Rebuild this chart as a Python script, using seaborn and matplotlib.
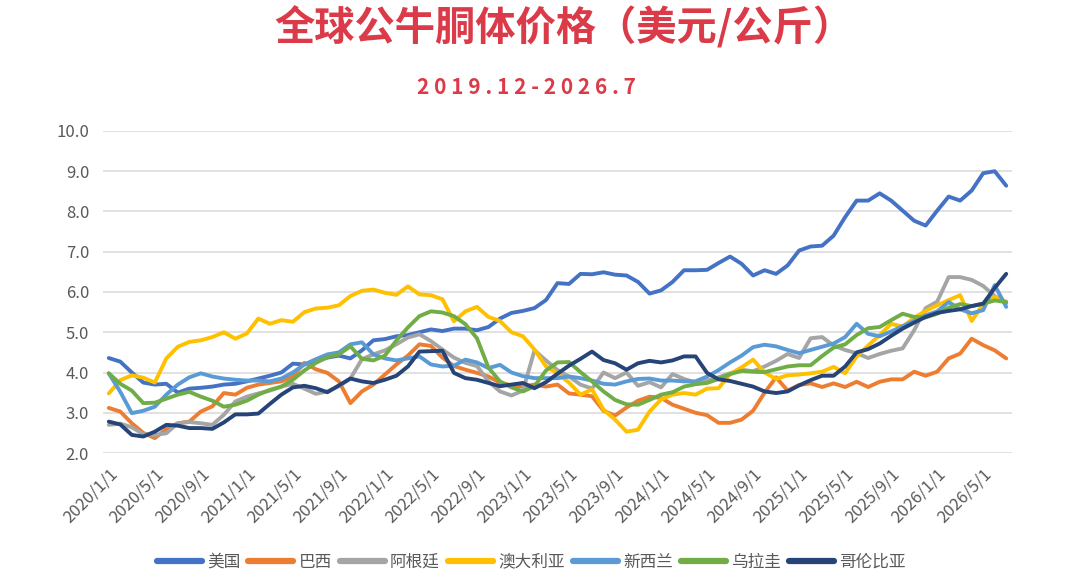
import matplotlib
matplotlib.use("Agg")
import matplotlib.pyplot as plt
import numpy as np
import pandas as pd
import seaborn as sns

# monthly, 2020/1 .. 2026/7
months = pd.date_range("2020-01-01", periods=79, freq="MS")

us = [4.36, 4.27, 4.0, 3.75, 3.7, 3.72, 3.5, 3.6, 3.62, 3.65,
      3.7, 3.72, 3.78, 3.85, 3.92, 4.0, 4.22, 4.2, 4.28, 4.37,
      4.42, 4.35, 4.55, 4.8, 4.83, 4.9,
      4.93, 5.0, 5.07, 5.03, 5.09, 5.09, 5.05, 5.13, 5.34, 5.48,
      5.53, 5.6, 5.8, 6.22, 6.2, 6.45, 6.44, 6.49, 6.43, 6.41,
      6.25, 5.96, 6.04, 6.25, 6.54, 6.54, 6.55, 6.72,
      6.88, 6.7, 6.41, 6.54, 6.45, 6.66, 7.03, 7.13, 7.15, 7.4,
      7.86, 8.27, 8.27, 8.45, 8.27, 8.02, 7.77, 7.65, 8.02, 8.37,
      8.27, 8.52, 8.95, 9.0, 8.64]

brazil = [3.12, 3.03, 2.74, 2.5, 2.37, 2.59, 2.74, 2.78, 3.03, 3.16,
          3.49, 3.45, 3.62, 3.7, 3.74, 3.78, 3.9, 4.24, 4.08, 3.99,
          3.78, 3.24, 3.53, 3.7, 3.95, 4.2, 4.42, 4.7, 4.66, 4.37,
          4.16, 4.07, 3.99, 3.9, 3.75, 3.68, 3.65, 3.7, 3.65, 3.7,
          3.48, 3.45, 3.41, 3.05, 2.93, 3.13, 3.3, 3.4, 3.37, 3.2,
          3.1, 3.0, 2.94, 2.75, 2.75, 2.83, 3.05, 3.5, 3.88, 3.55,
          3.69, 3.73, 3.64, 3.73, 3.64, 3.77, 3.64, 3.77, 3.83, 3.83,
          4.02, 3.92, 4.02, 4.35, 4.47, 4.84, 4.68, 4.55, 4.35]

argentina = [2.7, 2.73, 2.64, 2.47, 2.45, 2.49, 2.74, 2.77, 2.74, 2.7,
             2.95, 3.28, 3.4, 3.48, 3.55, 3.65, 3.72, 3.6, 3.47, 3.53,
             3.66, 3.85, 4.33, 4.45, 4.55, 4.7, 4.87, 4.95, 4.78, 4.57,
             4.37, 4.24, 4.16, 3.78, 3.53, 3.43, 3.55, 4.55, 4.3, 4.06,
             3.9, 3.7, 3.6, 4.0, 3.86, 4.0, 3.67, 3.76, 3.63, 3.96,
             3.84, 3.75, 3.8, 3.88, 3.98, 4.07, 4.03, 4.15, 4.29, 4.46,
             4.36, 4.85, 4.88, 4.67, 4.56, 4.48, 4.36, 4.46, 4.54, 4.6,
             5.05, 5.6, 5.76, 6.37, 6.37, 6.3, 6.15, 5.9, 5.72]

australia = [3.48, 3.81, 3.93, 3.87, 3.75, 4.35, 4.64, 4.76, 4.8, 4.88,
             5.0, 4.84, 4.97, 5.34, 5.21, 5.3, 5.26, 5.5, 5.59, 5.61,
             5.67, 5.9, 6.03, 6.06, 5.98, 5.93, 6.14, 5.94, 5.92, 5.82,
             5.27, 5.52, 5.63, 5.38, 5.28, 5.0, 4.9, 4.57, 4.15, 3.98,
             3.75, 3.45, 3.58, 3.08, 2.83, 2.53, 2.58, 3.03, 3.33, 3.45,
             3.49, 3.45, 3.6, 3.61, 3.96, 4.13, 4.32, 4.0, 3.84, 3.93,
             3.95, 3.98, 4.02, 4.14, 3.98, 4.4, 4.67, 4.93, 5.21, 5.14,
             5.36, 5.53, 5.67, 5.8, 5.92, 5.28, 5.7, 5.88, 5.76]

new_zealand = [3.98, 3.52, 2.99, 3.05, 3.15, 3.45, 3.7, 3.88, 3.98, 3.9,
               3.85, 3.82, 3.8, 3.8, 3.78, 3.85, 4.0, 4.2, 4.33, 4.45,
               4.5, 4.7, 4.75, 4.45, 4.35, 4.3, 4.35, 4.4, 4.2, 4.15,
               4.17, 4.32, 4.25, 4.11, 4.19, 4.0, 3.91, 3.86, 3.86, 3.86,
               3.9, 3.86, 3.8, 3.72, 3.7, 3.78, 3.84, 3.85, 3.8, 3.8,
               3.78, 3.78, 3.9, 4.06, 4.25, 4.42, 4.63, 4.69, 4.65, 4.56,
               4.48, 4.56, 4.64, 4.72, 4.88, 5.21, 4.96, 4.9, 5.02, 5.15,
               5.28, 5.42, 5.52, 5.75, 5.57, 5.47, 5.55, 6.17, 5.63]

uruguay = [3.98, 3.72, 3.55, 3.24, 3.25, 3.35, 3.45, 3.52, 3.4, 3.3,
           3.15, 3.2, 3.3, 3.45, 3.57, 3.65, 3.82, 4.05, 4.24, 4.38,
           4.45, 4.65, 4.34, 4.3, 4.42, 4.8, 5.12, 5.4, 5.52, 5.49,
           5.4, 5.2, 4.85, 4.12, 3.78, 3.63, 3.53, 3.66, 4.05, 4.25,
           4.26, 4.01, 3.78, 3.53, 3.32, 3.21, 3.2, 3.32, 3.45, 3.51,
           3.65, 3.71, 3.74, 3.84, 3.96, 4.04, 4.02, 4.01, 4.08, 4.15,
           4.18, 4.18, 4.41, 4.62, 4.7, 4.93, 5.1, 5.13, 5.3, 5.46,
           5.38, 5.37, 5.46, 5.61, 5.7, 5.65, 5.71, 5.79, 5.75]

colombia = [2.78, 2.71, 2.45, 2.41, 2.53, 2.7, 2.68, 2.62, 2.62, 2.6,
            2.76, 2.96, 2.96, 2.98, 3.22, 3.45, 3.63, 3.67, 3.61, 3.51,
            3.68, 3.85, 3.78, 3.74, 3.82, 3.92, 4.15, 4.52, 4.53, 4.54,
            3.99, 3.86, 3.82, 3.74, 3.66, 3.7, 3.74, 3.61, 3.76, 3.97,
            4.17, 4.34, 4.52, 4.31, 4.23, 4.07, 4.23, 4.29, 4.25, 4.3,
            4.4, 4.4, 3.99, 3.83, 3.79, 3.72, 3.65, 3.53, 3.49, 3.53,
            3.68, 3.81, 3.92, 3.92, 4.15, 4.5, 4.58, 4.72, 4.91, 5.09,
            5.24, 5.38, 5.48, 5.53, 5.57, 5.65, 5.71, 6.1, 6.45]

countries = ["美国", "巴西", "阿根廷", "澳大利亚", "新西兰", "乌拉圭", "哥伦比亚"]
series = [us, brazil, argentina, australia, new_zealand, uruguay, colombia]
colors = ["#4472C4", "#ED7D31", "#A5A5A5", "#FFC000", "#5B9BD5", "#70AD47", "#264478"]

sns.set_theme(style="white")
plt.rcParams["font.family"] = ["Noto Sans CJK SC", "DejaVu Sans"]

rows = []
for name, vals in zip(countries, series):
    for i, v in enumerate(vals):
        rows.append({"idx": i, "price": v, "country": name})
df = pd.DataFrame(rows)

fig = plt.figure(figsize=(10.8, 5.82), dpi=100)
ax = fig.add_axes([0.0954, 0.2216, 0.8416, 0.5534])

sns.lineplot(data=df, x="idx", y="price", hue="country", hue_order=countries,
             palette=dict(zip(countries, colors)), linewidth=2.8, sort=False,
             legend=False, ax=ax)

ax.set_xlim(-0.5, len(months) - 0.5)
ax.set_ylim(2, 10)
ax.set_yticks(np.arange(2, 10.01, 1))
ax.set_yticklabels([f"{v:.1f}" for v in np.arange(2, 10.01, 1)])
tick_idx = list(range(0, len(months), 4))
ax.set_xticks(tick_idx)
ax.set_xticklabels([f"{months[i].year}/{months[i].month}/1" for i in tick_idx],
                   rotation=45, ha="right", va="top", rotation_mode="anchor")
ax.tick_params(axis="both", length=0, labelsize=12, labelcolor="#595959")
ax.tick_params(axis="x", pad=9)
ax.tick_params(axis="y", pad=10)
ax.set_xlabel("")
ax.set_ylabel("")
ax.grid(axis="y", color="#D9D9D9", linewidth=1.1)
ax.grid(axis="x", visible=False)
for s in ax.spines.values():
    s.set_visible(False)

handles = [plt.Line2D([], [], color=c, linewidth=4.5, solid_capstyle="round") for c in colors]
fig.legend(handles, countries, loc="center", bbox_to_anchor=(0.492, 0.034), ncol=7,
           frameon=False, fontsize=12, handlelength=2.7, handletextpad=0.3,
           columnspacing=0.5, labelcolor="#595959")

fig.text(0.522, 0.952, "全球公牛胴体价格（美元/公斤）", ha="center", va="center",
         fontsize=29, fontweight="bold", color="#DB3A48")
fig.text(0.487, 0.849, " ".join("2019.12-2026.7"), ha="center", va="center",
         fontsize=15, fontweight="bold", color="#DB3A48")

fig.savefig("out.png", dpi=100, facecolor="white")
